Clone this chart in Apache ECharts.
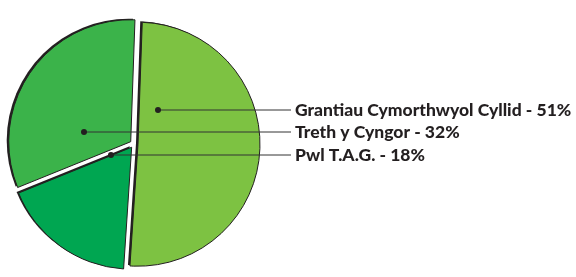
<!DOCTYPE html>
<html>
<head>
<meta charset="utf-8">
<script src="https://cdn.jsdelivr.net/npm/echarts@6/dist/echarts.min.js"></script>
<style>
  html, body { margin: 0; padding: 0; background: #fff; }
  #chart { width: 576px; height: 277px; }
</style>
</head>
<body>
<div id="chart"></div>
<script>
// legend order (top to bottom)
const names = ['Grantiau Cymorthwyol Cyllid', 'Treth y Cyngor', 'Pwl T.A.G.'];
const values = [51, 32, 18];
const colors = ['#7dc242', '#3bb34a', '#00a651'];
// clockwise drawing order of the slices, starting near 12 o'clock
const drawOrder = [0, 2, 1];
// where each leader line sits (y) and where its dot lands inside the slice (x)
const labelY = [110, 132, 155];
const dotX = [158, 84, 111];

const chart = echarts.init(document.getElementById('chart'));

const pieData = (shadow) => drawOrder.map((i) => ({
  name: names[i],
  value: values[i],
  selected: true,
  itemStyle: { color: shadow ? '#231f20' : colors[i] }
}));

const leaders = [];
names.forEach((n, i) => {
  const y = labelY[i];
  leaders.push({
    type: 'line',
    shape: { x1: dotX[i], y1: y, x2: 291, y2: y },
    style: { stroke: '#333', lineWidth: 1 },
    z: 100
  });
  leaders.push({
    type: 'circle',
    shape: { cx: dotX[i], cy: y, r: 3 },
    style: { fill: '#231f20' },
    z: 101
  });
  leaders.push({
    type: 'text',
    x: 295,
    y: y,
    style: {
      text: n + ' - ' + values[i] + '%',
      fontFamily: 'Lato',
      fontWeight: 900,
      fontSize: 17.5,
      fill: '#231f20',
      align: 'left',
      verticalAlign: 'middle'
    },
    z: 101
  });
});

const pieBase = {
  type: 'pie',
  radius: 122,
  startAngle: 88,
  clockwise: true,
  selectedMode: 'multiple',
  selectedOffset: 4,
  emphasis: { disabled: true },
  label: { show: false },
  labelLine: { show: false },
  silent: true
};

chart.setOption({
  animation: false,
  series: [
    // dark offset copy that reads as the thick edge on the upper left
    Object.assign({}, pieBase, {
      center: [132, 143],
      data: pieData(true),
      z: 1
    }),
    Object.assign({}, pieBase, {
      center: [134, 144],
      data: pieData(false),
      itemStyle: { borderColor: '#231f20', borderWidth: 1 },
      z: 2
    })
  ],
  graphic: leaders
});
</script>
</body>
</html>
